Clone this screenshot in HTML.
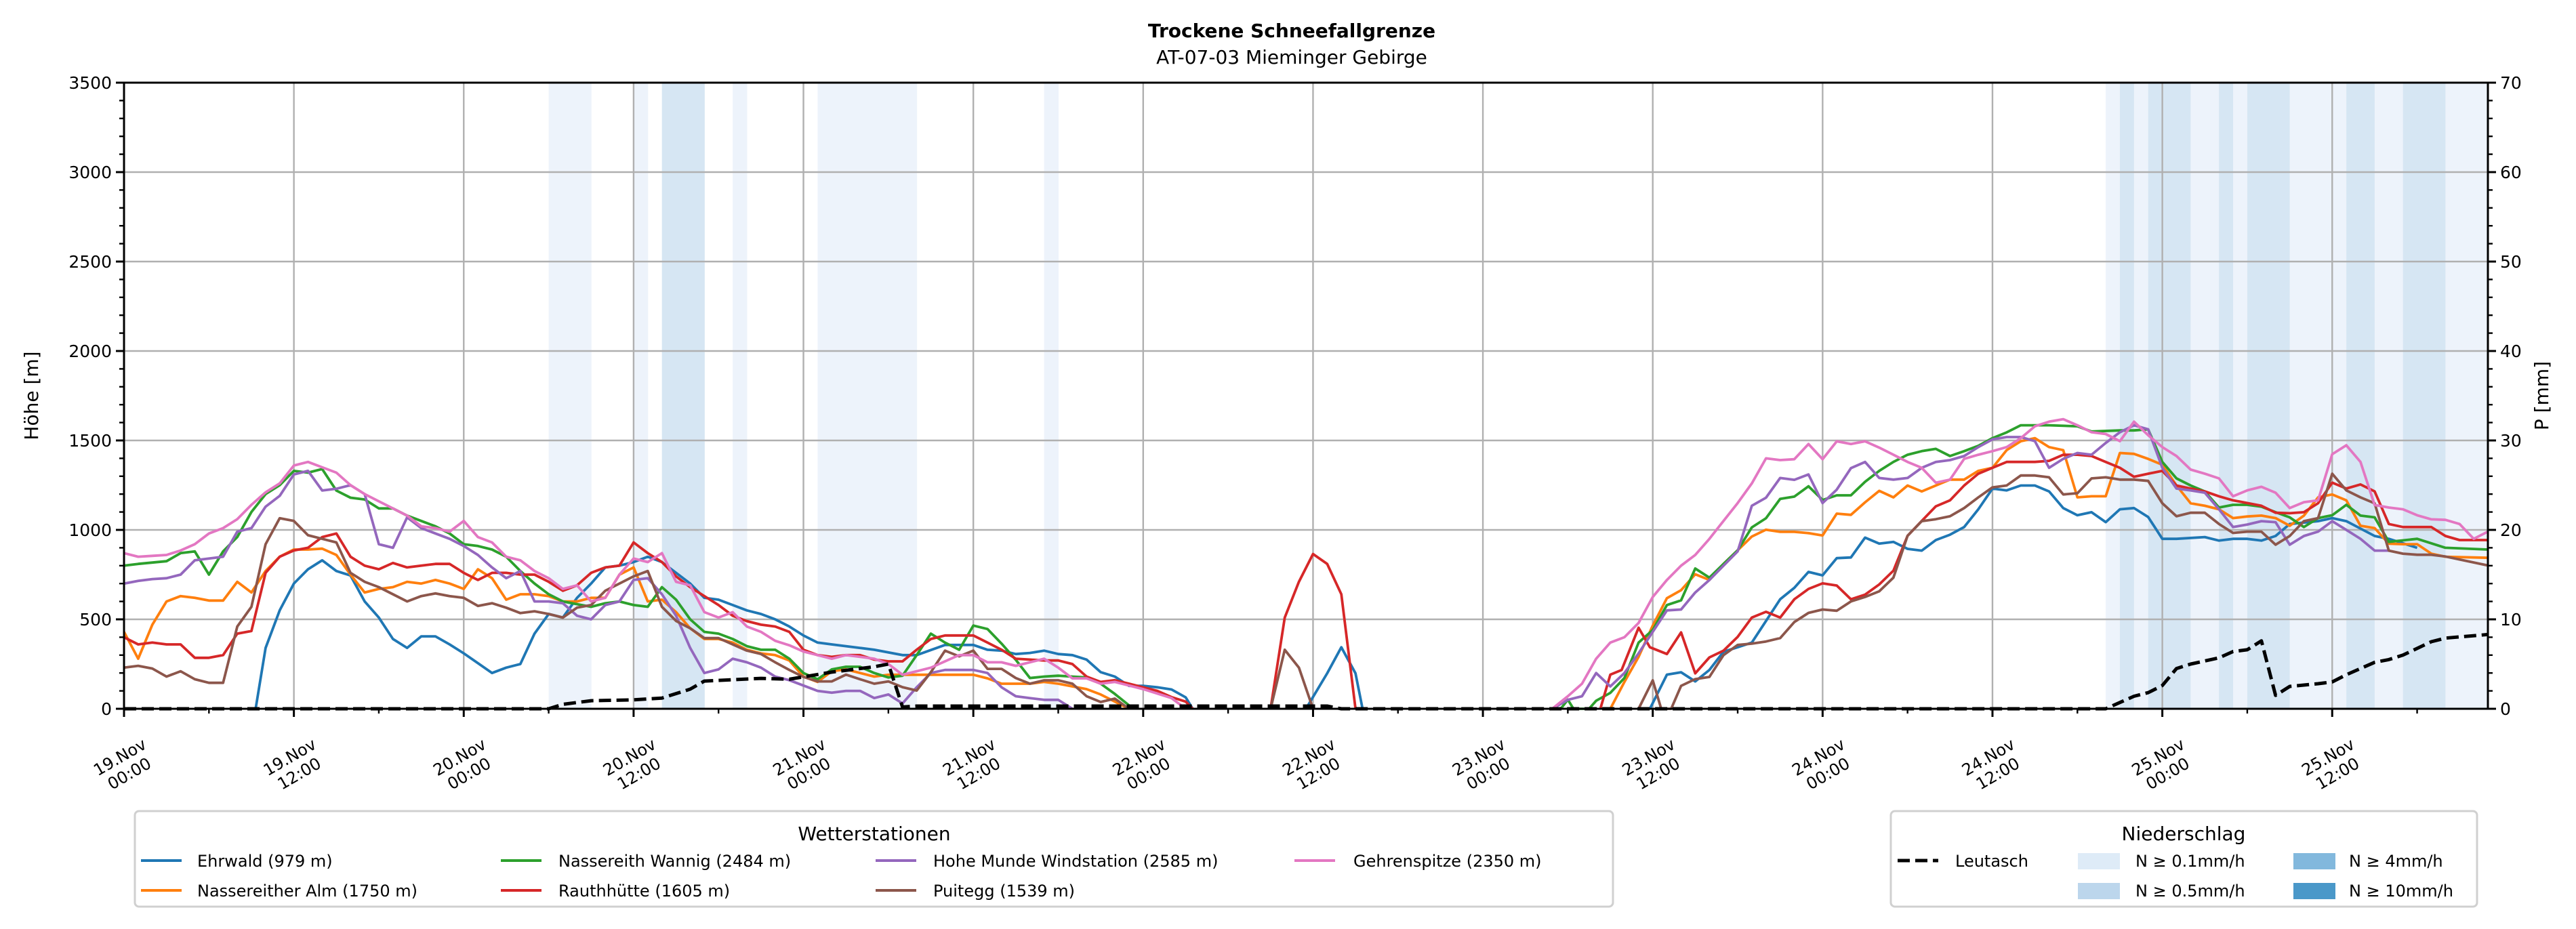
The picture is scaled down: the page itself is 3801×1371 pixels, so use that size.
<!DOCTYPE html>
<html><head><meta charset="utf-8"><style>
html,body{margin:0;padding:0;background:#fff;}
svg{display:block;font-family:"DejaVu Sans","Liberation Sans",sans-serif;}
</style></head><body>
<svg id="chart" width="3801" height="1371" viewBox="0 0 3801 1371" xmlns="http://www.w3.org/2000/svg">
<text x="1906" y="55" text-anchor="middle" font-size="28" font-weight="bold">Trockene Schneefallgrenze</text>
<text x="1906" y="94" text-anchor="middle" font-size="28">AT-07-03 Mieminger Gebirge</text>
<g id="bands"></g>
<g id="grid"></g>
<g id="series"></g>
<g id="axes"></g>
<text transform="translate(56,584) rotate(-90)" text-anchor="middle" font-size="28">Höhe [m]</text>
<text transform="translate(3760,584) rotate(-90)" text-anchor="middle" font-size="28">P [mm]</text>
<g>
<rect x="199" y="1197" width="2181" height="141" rx="6" fill="#fff" stroke="#d0d0d0" stroke-width="3"/>
<text x="1290" y="1240" text-anchor="middle" font-size="28">Wetterstationen</text>
<g font-size="24">
<line x1="208" y1="1270" x2="268" y2="1270" stroke="#1f77b4" stroke-width="4"/><text x="291" y="1279">Ehrwald (979 m)</text>
<line x1="208" y1="1314" x2="268" y2="1314" stroke="#ff7f0e" stroke-width="4"/><text x="291" y="1323">Nassereither Alm (1750 m)</text>
<line x1="739" y1="1270" x2="799" y2="1270" stroke="#2ca02c" stroke-width="4"/><text x="824" y="1279">Nassereith Wannig (2484 m)</text>
<line x1="739" y1="1314" x2="799" y2="1314" stroke="#d62728" stroke-width="4"/><text x="824" y="1323">Rauthhütte (1605 m)</text>
<line x1="1292" y1="1270" x2="1352" y2="1270" stroke="#9467bd" stroke-width="4"/><text x="1377" y="1279">Hohe Munde Windstation (2585 m)</text>
<line x1="1292" y1="1314" x2="1352" y2="1314" stroke="#8c564b" stroke-width="4"/><text x="1377" y="1323">Puitegg (1539 m)</text>
<line x1="1910" y1="1270" x2="1970" y2="1270" stroke="#e377c2" stroke-width="4"/><text x="1997" y="1279">Gehrenspitze (2350 m)</text>
</g></g>
<g>
<rect x="2790" y="1197" width="865" height="141" rx="6" fill="#fff" stroke="#d0d0d0" stroke-width="3"/>
<text x="3222" y="1240" text-anchor="middle" font-size="28">Niederschlag</text>
<g font-size="24">
<line x1="2800" y1="1270" x2="2860" y2="1270" stroke="#000" stroke-width="5" stroke-dasharray="18,8"/><text x="2885" y="1279">Leutasch</text>
<rect x="3066" y="1259" width="62" height="24" fill="#deebf7"/><text x="3151" y="1279">N ≥ 0.1mm/h</text>
<rect x="3066" y="1303" width="62" height="24" fill="#bcd6ec"/><text x="3151" y="1323">N ≥ 0.5mm/h</text>
<rect x="3384" y="1259" width="62" height="24" fill="#82b8dd"/><text x="3466" y="1279">N ≥ 4mm/h</text>
<rect x="3384" y="1303" width="62" height="24" fill="#4a98c9"/><text x="3466" y="1323">N ≥ 10mm/h</text>
</g></g>
</svg>
<script>
// ---- data (hours since 19.Nov 00:00) ----
const xTickLabels=["19.Nov|00:00","19.Nov|12:00","20.Nov|00:00","20.Nov|12:00","21.Nov|00:00","21.Nov|12:00","22.Nov|00:00","22.Nov|12:00","23.Nov|00:00","23.Nov|12:00","24.Nov|00:00","24.Nov|12:00","25.Nov|00:00","25.Nov|12:00"];
const yTicks=[0,500,1000,1500,2000,2500,3000,3500];
const y2Ticks=[0,10,20,30,40,50,60,70];
const bandStart=[30,36,38,43,49,65,140,141,142,143,146,148,149,150,153,157,159,161,164];
const bandEnd  =[33,37,41,44,56,66,141,142,143,146,148,149,150,153,157,159,161,164,167];
const bandLevel=[1,1,2,1,1,1,1,2,1,2,1,2,1,2,1,2,1,2,1];

const leutaschH=[0,30,31,33,36,38,40,41,45,47,50,53,54,55,56,85,86,139,140,142,143,144,145,146,148,149,150,151,152,153,155,156,157,159,160,161,163,164,167];
const leutaschV=[0,0,0.5,0.9,1.0,1.2,2.2,3.1,3.4,3.3,4.1,4.7,5.0,0.2,0.3,0.3,0,0,0,1.4,1.8,2.6,4.5,5.0,5.7,6.4,6.6,7.6,1.5,2.5,2.8,3.0,3.8,5.2,5.5,6.0,7.5,7.9,8.3];

const ehrwaldH=[9.3,10,11,12,13,14,15,16,17,18,19,20,21,22,23,24,25,26,27,28,29,30,31,32,33,34,35,36,37,38,39,40,41,42,43,44,45,46,47,48,49,50,51,52,53,55,56,58,60,61,62,63,64,65,66,67,68,69,70,71,72,73,74,75,75.5,80,83.5,85,86,87,87.5,95,107.8,109,110,111,112,113,114,115,116,117,118,119,120,121,122,123,124,125,126,127,128,129,130,131,132,133,134,135,136,137,138,139,140,141,142,143,144,145,147,148,149,150,151,152,153,155,156,157,159,160,162,164,167];
const ehrwaldV=[0,340,550,700,780,830,770,745,600,510,390,340,405,405,360,310,255,200,230,250,420,530,510,620,700,790,800,820,850,820,760,700,620,610,580,550,530,500,460,410,370,360,350,340,330,300,300,357,357,330,325,306,312,325,306,300,275,205,180,128,128,120,108,64,0,null,0,198,344,198,0,null,0,191,204,153,217,319,344,370,491,612,676,765,746,842,846,957,923,933,894,884,943,973,1016,1115,1231,1221,1248,1248,1215,1122,1082,1099,1043,1115,1122,1072,950,950,960,940,950,950,940,966,1033,1049,1066,1049,966,950,900];

const alleH=[0,1,2,3,4,5,6,7,8,9,10,11,12,13,14,15,16,17,18,19,20,21,22,23,24,25,26,27,28,29,30,31,32,33,34,35,36,37,38,39,40,41,42,43,44,45,46,47,48,49,50,51,52,53,54,55,56,57,58,59,60,61,62,63,64,65,66,67,68,69,70,71,90,105,106,107,108,109,110,111,112,113,114,115,116,117,118,119,120,121,122,123,124,125,126,127,128,129,130,131,132,133,134,135,136,137,138,139,140,141,142,143,144,145,146,147,148,149,150,151,152,153,154,155,156,157,158,159,160,161,162,163,164,167];
const alleV=[430,280,470,600,630,620,605,605,710,650,770,850,890,890,895,860,750,650,670,680,710,700,720,700,670,780,730,610,640,640,630,600,600,620,620,750,790,600,610,540,450,390,390,370,330,310,300,270,180,150,210,220,200,180,190,190,190,190,190,190,190,170,140,140,140,150,140,125,110,80,40,0,null,0,150,290,465,618,663,752,720,810,886,963,1001,989,989,982,969,1091,1084,1154,1218,1182,1248,1215,1248,1281,1281,1330,1347,1446,1496,1513,1463,1446,1182,1188,1188,1430,1425,1397,1364,1248,1149,1135,1115,1066,1075,1080,1066,1023,1080,1182,1198,1165,1023,1010,923,920,920,867,850,844];

const wannigH=[0,1,3,4,5,6,7,8,9,10,11,12,13,14,15,16,17,18,19,20,21,22,23,24,25,26,27,28,29,30,31,32,33,34,35,36,37,38,39,40,41,42,43,44,45,46,47,48,49,50,51,52,53,54,55,56,57,58,59,60,61,62,63,64,65,66,67,68,69,70,71,71.3,90,101.5,102,102.4,103.5,104,105,106,107,108,109,110,111,112,113,114,115,116,117,118,119,120,121,122,123,124,125,126,127,128,129,130,131,132,133,134,136,138,139,141,142,143,144,145,146,147,148,149,150,151,152,153,154,155,156,157,158,159,160,162,163,164,167];
const wannigV=[800,810,825,870,880,750,880,960,1100,1200,1250,1330,1320,1340,1220,1180,1170,1120,1120,1080,1050,1020,980,920,910,890,850,770,700,640,600,585,570,590,600,580,570,680,610,500,430,420,390,350,330,330,280,200,165,220,235,235,200,175,185,300,420,370,330,465,446,364,274,172,180,185,180,175,140,83,19,0,null,0,51,0,0,45,89,172,370,440,580,606,784,733,810,886,1014,1065,1173,1186,1244,1167,1193,1193,1269,1330,1380,1420,1440,1453,1413,1440,1470,1513,1545,1585,1585,1579,1550,1556,1556,1562,1380,1288,1248,1215,1125,1140,1140,1130,1099,1070,1016,1066,1082,1140,1080,1070,933,950,925,900,890];

const rauthH=[0,1,2,3,4,5,6,7,8,9,10,11,12,13,14,15,16,17,18,19,20,21,22,23,24,25,26,27,28,29,30,31,32,33,34,35,36,37,38,39,40,41,42,43,44,45,46,47,48,49,50,51,52,53,54,55,56,57,58,59,60,61,62,63,64,65,66,67,68,69,70,71,72,73,74,75,75.5,78,81,82,83,84,85,86,87,95,104.3,105,105.8,107,107.8,109,110,111,112,113,114,115,116,117,118,119,120,121,122,123,124,125,126,127,128,129,130,131,132,133,134,135,136,137,138,139,140,141,142,143,144,145,146,147,148,149,150,151,152,153,154,155,156,157,158,159,160,161,162,163,164,165,167];
const rauthV=[400,360,370,360,360,285,285,300,420,435,760,850,885,900,960,980,850,800,780,815,790,800,810,810,760,720,760,760,750,750,710,660,690,760,790,800,930,870,820,740,680,630,580,520,490,470,460,430,330,300,290,300,300,275,265,265,330,390,410,410,410,370,330,280,275,270,270,250,180,150,160,140,120,100,65,40,0,null,0,510,710,865,810,640,0,null,0,191,217,453,344,306,427,198,287,325,402,510,542,510,612,670,701,689,612,638,695,772,967,1050,1132,1165,1248,1314,1347,1380,1380,1380,1386,1420,1420,1413,1380,1347,1297,1314,1330,1248,1231,1215,1188,1165,1150,1135,1096,1093,1099,1149,1264,1231,1254,1215,1033,1016,1016,1016,966,943,943];

const mundeH=[0,1,2,3,4,5,6,7,8,9,10,11,12,13,14,15,16,17,18,19,20,21,22,23,24,25,26,27,28,29,30,31,32,33,34,35,36,37,38,39,40,41,42,43,44,45,46,47,48,49,50,51,52,53,54,55,56,57,58,59,60,61,62,63,64,65,66,67,80,100.9,102,103,104,105,106,107,108,109,110,111,112,113,114,115,116,117,118,119,120,121,122,123,124,125,126,127,128,129,130,131,132,133,134,135,136,137,138,139,140,141,142,143,144,145,146,147,148,149,150,151,152,153,154,155,156,157,158,159,160,161];
const mundeV=[700,715,725,730,750,830,840,850,990,1010,1130,1190,1310,1330,1220,1230,1250,1200,920,900,1070,1010,980,950,910,860,790,730,770,600,600,590,520,500,580,600,720,730,640,520,340,200,220,280,260,230,180,160,130,100,90,100,100,60,80,30,120,200,217,217,217,200,120,70,60,50,50,0,null,0,50,70,200,125,200,310,430,550,555,650,720,800,880,1135,1180,1290,1280,1310,1150,1225,1345,1380,1290,1281,1290,1347,1380,1390,1413,1463,1506,1519,1519,1496,1347,1397,1430,1420,1486,1546,1585,1562,1347,1231,1221,1208,1115,1016,1030,1049,1043,917,966,990,1049,1000,950,884,884];

const puiteggH=[0,1,2,3,4,5,6,7,8,9,10,11,12,13,14,15,16,17,18,19,20,21,22,23,24,25,26,27,28,29,30,31,32,33,34,35,36,37,38,39,40,41,42,43,44,45,46,47,48,49,50,51,52,53,54,55,56,57,58,59,60,61,62,63,64,65,66,67,68,69,70,71,76,81,82,83,84,95,107,108,108.6,109.3,110,111,112,113,114,115,116,117,118,119,120,121,122,123,124,125,126,127,128,129,130,131,132,133,134,135,136,137,138,139,140,141,142,143,144,145,146,147,148,149,150,151,152,153,154,155,156,157,158,159,160,161,162,163,164,167];
const puiteggV=[230,240,225,180,210,165,145,145,460,570,920,1065,1050,970,950,930,760,710,680,640,600,630,645,630,620,575,590,565,535,545,530,510,565,580,660,700,740,770,570,491,450,395,395,360,325,306,260,217,178,153,153,191,165,140,153,121,102,204,325,293,325,223,223,172,140,159,159,140,70,38,57,0,null,0,330,230,0,null,0,159,0,0,128,166,178,300,357,364,376,395,485,536,555,548,600,625,657,733,967,1049,1060,1076,1122,1182,1238,1248,1304,1304,1294,1198,1205,1288,1294,1281,1281,1274,1149,1076,1096,1096,1033,983,990,990,917,966,1049,1066,1314,1221,1182,1149,884,867,861,861,851,801];

const gehrenH=[0,1,2,3,4,5,6,7,8,9,10,11,12,13,14,15,16,17,18,19,20,21,22,23,24,25,26,27,28,29,30,31,32,33,34,35,36,37,38,39,40,41,42,43,44,45,46,47,48,49,50,51,52,53,54,55,56,57,58,59,60,61,62,63,64,65,66,67,68,69,70,71,72,73,74,75,90,100.9,102,103,104,105,106,107,108,109,110,111,112,113,114,115,116,117,118,119,120,121,122,123,124,125,126,127,128,129,130,131,132,133,134,135,136,137,138,139,140,141,142,143,144,145,146,147,148,149,150,151,152,153,154,155,156,157,158,159,160,161,162,163,164,165,166,167];
const gehrenV=[870,850,855,860,885,920,980,1010,1060,1140,1210,1260,1360,1380,1350,1320,1250,1200,1160,1120,1080,1020,1010,990,1050,960,930,850,830,770,730,670,690,600,620,750,840,820,870,710,690,540,510,540,460,430,380,355,320,300,280,300,290,280,250,190,210,230,265,300,300,260,260,240,260,280,230,170,170,140,150,130,110,85,60,0,null,0,70,140,280,370,400,480,625,720,800,860,950,1050,1150,1260,1400,1390,1395,1480,1395,1495,1480,1495,1460,1420,1380,1347,1264,1281,1397,1420,1440,1463,1513,1579,1605,1619,1585,1546,1536,1496,1605,1529,1463,1413,1337,1314,1288,1188,1221,1241,1208,1122,1155,1165,1423,1473,1380,1139,1125,1115,1082,1059,1056,1033,950,990];

// ---- layout ----
const X0=183,X1=3671,Y0=122,Y1=1046,HMAX=167;
const NS="http://www.w3.org/2000/svg";
const xs=h=>X0+(h/HMAX)*(X1-X0);
const ys=m=>Y1-(m/3500)*(Y1-Y0);
const ys2=p=>Y1-(p/70)*(Y1-Y0);
function mk(tag,attrs,parent){const e=document.createElementNS(NS,tag);for(const k in attrs)e.setAttribute(k,attrs[k]);parent.appendChild(e);return e;}

const bandsG=document.getElementById('bands');
for(let i=0;i<bandStart.length;i++){
  const r=mk('rect',{x:xs(bandStart[i]),y:Y0,width:xs(bandEnd[i])-xs(bandStart[i])+0.5,height:Y1-Y0,fill:bandLevel[i]===2?'#d6e6f3':'#edf3fb'},bandsG);
  
  
}
const gridG=document.getElementById('grid');
for(let i=1;i<xTickLabels.length;i++){
  const l=mk('line',{x1:xs(i*12),x2:xs(i*12),y1:Y0,y2:Y1,stroke:'#b0b0b0','stroke-width':2.4},gridG);
  
  
}
yTicks.forEach(v=>{if(v===0||v===3500)return;
  const l=mk('line',{x1:X0,x2:X1,y1:ys(v),y2:ys(v),stroke:'#b0b0b0','stroke-width':2.4},gridG);
  
  
});

const seriesG=document.getElementById('series');
function drawSeries(H,V,color,name,dash,scale){
  let d='',pen=false;
  for(let i=0;i<H.length;i++){
    if(V[i]===null){pen=false;continue;}
    d+=(pen?'L':'M')+xs(H[i]).toFixed(1)+' '+scale(V[i]).toFixed(1);pen=true;
  }
  const p=mk('path',{d:d,fill:'none',stroke:color,'stroke-width':dash?5:3.8,'stroke-linejoin':'round'},seriesG);
  if(dash)p.setAttribute('stroke-dasharray','18,8');
  
  
}
drawSeries(ehrwaldH,ehrwaldV,'#1f77b4','ehrwald-line',false,ys);
drawSeries(alleH,alleV,'#ff7f0e','nassereither-alm-line',false,ys);
drawSeries(wannigH,wannigV,'#2ca02c','nassereith-wannig-line',false,ys);
drawSeries(rauthH,rauthV,'#d62728','rauthhuette-line',false,ys);
drawSeries(mundeH,mundeV,'#9467bd','hohe-munde-line',false,ys);
drawSeries(puiteggH,puiteggV,'#8c564b','puitegg-line',false,ys);
drawSeries(gehrenH,gehrenV,'#e377c2','gehrenspitze-line',false,ys);
drawSeries(leutaschH,leutaschV,'#000','leutasch-precip-line',true,ys2);

const axG=document.getElementById('axes');
const frame=mk('rect',{x:X0,y:Y0,width:X1-X0,height:Y1-Y0,fill:'none',stroke:'#000','stroke-width':3},axG);


for(let m=0;m<=3500;m+=100){const big=m%500===0;
  mk('line',{x1:X0-(big?12:7),x2:X0,y1:ys(m),y2:ys(m),stroke:'#000','stroke-width':big?3:2.4},axG);}
for(let p=0;p<=70;p+=2){mk('line',{x1:X1,x2:X1+7,y1:ys2(p),y2:ys2(p),stroke:'#000','stroke-width':2.4},axG);}
y2Ticks.forEach(p=>{mk('line',{x1:X1,x2:X1+12,y1:ys2(p),y2:ys2(p),stroke:'#000','stroke-width':3},axG);
  const t=mk('text',{x:X1+18,y:ys2(p)+9,'font-size':25},axG);t.textContent=p;
  
  });
yTicks.forEach(v=>{const t=mk('text',{x:X0-18,y:ys(v)+9,'font-size':25,'text-anchor':'end'},axG);t.textContent=v;
  
  });
for(let h=0;h<=HMAX;h+=6){const big=h%12===0;
  mk('line',{x1:xs(h),x2:xs(h),y1:Y1,y2:Y1+(big?12:7),stroke:'#000','stroke-width':big?3:2.4},axG);}
xTickLabels.forEach((lab,i)=>{const parts=lab.split('|');const cx=xs(i*12),cy=1128;
  const t=mk('text',{transform:`translate(${cx},${cy}) rotate(-30)`,'font-size':24,'text-anchor':'middle'},axG);
  
  
  const a=mk('tspan',{x:0,y:-4},t);a.textContent=parts[0];
  const b=mk('tspan',{x:0,y:24},t);b.textContent=parts[1];});
</script>
</body></html>
